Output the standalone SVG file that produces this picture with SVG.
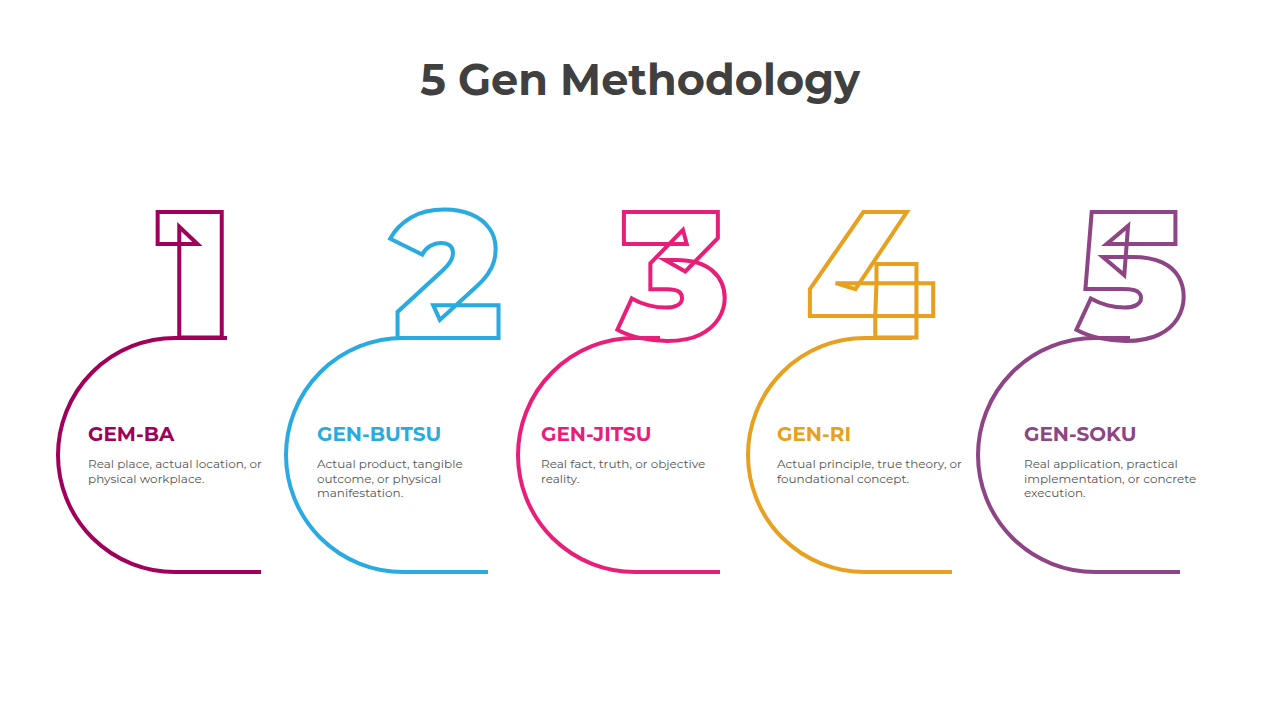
<svg xmlns="http://www.w3.org/2000/svg" width="1280" height="720" viewBox="0 0 1280 720">
<style>
.t{font-family:Montserrat,"Open Sans","Liberation Sans",sans-serif;font-weight:700;font-size:43px;fill:#404040}
.d{font-family:Montserrat,"DejaVu Sans","Liberation Sans",sans-serif;font-weight:900;font-size:180px;fill:none;stroke-width:4;text-anchor:end}
.s{fill:none;stroke-width:4}
.h{font-family:Montserrat,"Open Sans","Liberation Sans",sans-serif;font-weight:700;font-size:20px}
.p{font-family:Montserrat,"Open Sans","Liberation Sans",sans-serif;font-size:12px;fill:#555}
</style>
<rect width="1280" height="720" fill="#fff"/>
<text class="t" x="640" y="95" text-anchor="middle">5 Gen Methodology</text>
<g id="connectors"></g>
<g id="n1" stroke="#A0005A" fill="#A0005A">
<text class="d" x="232" y="338" fill="none">1</text>
<path class="s" d="M227 338 H175 A117 117 0 0 0 175 572 H261"/>
<text class="h" x="88" y="441" stroke="none">GEM-BA</text>
<text class="p" x="88" y="468" stroke="none">Real place, actual location, or<tspan x="88" dy="15">physical workplace.</tspan></text>
</g>
<g id="n2" stroke="#29ABE2" fill="#29ABE2">
<text class="d" x="502" y="338" fill="none">2</text>
<path class="s" d="M497 338 H403 A117 117 0 0 0 403 572 H488"/>
<text class="h" x="317" y="441" stroke="none">GEN-BUTSU</text>
<text class="p" x="317" y="468" stroke="none">Actual product, tangible<tspan x="317" dy="15">outcome, or physical</tspan><tspan x="317" dy="14">manifestation.</tspan></text>
</g>
<g id="n3" stroke="#E91E78" fill="#E91E78">
<text class="d" x="729" y="338" fill="none">3</text>
<path class="s" d="M660 338 H635 A117 117 0 0 0 635 572 H720"/>
<text class="h" x="541" y="441" stroke="none">GEN-JITSU</text>
<text class="p" x="541" y="468" stroke="none">Real fact, truth, or objective<tspan x="541" dy="15">reality.</tspan></text>
</g>
<g id="n4" stroke="#E8A020" fill="#E8A020">
<text class="d" x="934" y="338" fill="none">4</text>
<path class="s" d="M912 338 H865 A117 117 0 0 0 865 572 H952"/>
<text class="h" x="777" y="441" stroke="none">GEN-RI</text>
<text class="p" x="777" y="468" stroke="none">Actual principle, true theory, or<tspan x="777" dy="15">foundational concept.</tspan></text>
</g>
<g id="n5" stroke="#8E4585" fill="#8E4585">
<text class="d" x="1187" y="338" fill="none">5</text>
<path class="s" d="M1130 338 H1095 A117 117 0 0 0 1095 572 H1180"/>
<text class="h" x="1024" y="441" stroke="none">GEN-SOKU</text>
<text class="p" x="1024" y="468" stroke="none">Real application, practical<tspan x="1024" dy="15">implementation, or concrete</tspan><tspan x="1024" dy="14">execution.</tspan></text>
</g>
</svg>
